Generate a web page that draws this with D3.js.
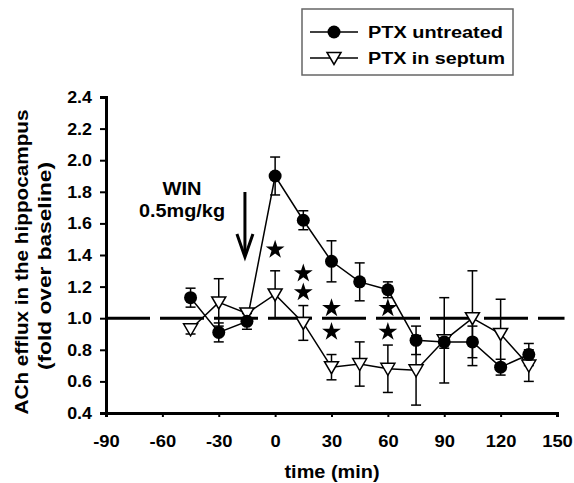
<!DOCTYPE html>
<html>
<head>
<meta charset="utf-8">
<script src="https://cdn.jsdelivr.net/npm/d3@7"></script>
<style>
  body { margin: 0; background: #fff; }
  text { font-family: "Liberation Sans", Arial, sans-serif; font-weight: bold; fill: #000; }
</style>
</head>
<body>
<script>
// time points (min)
const times = [-45, -30, -15, 0, 15, 30, 45, 60, 75, 90, 105, 120, 135];

// PTX untreated (filled circles)
const untreatedMean = [1.13, 0.91, 0.98, 1.90, 1.62, 1.36, 1.23, 1.18, 0.86, 0.85, 0.85, 0.69, 0.77];
const untreatedErr  = [0.06, 0.06, 0.05, 0.12, 0.06, 0.13, 0.12, 0.05, 0.09, 0.04, 0.10, 0.05, 0.07];

// PTX in septum (open triangles)
const septumMean = [0.93, 1.10, 1.03, 1.15, 0.97, 0.69, 0.71, 0.68, 0.67, 0.86, 1.00, 0.90, 0.70];
const septumErr  = [0.03, 0.15, 0.03, 0.15, 0.11, 0.08, 0.14, 0.15, 0.22, 0.27, 0.30, 0.22, 0.10];

// significance stars [time, value]
const stars = [[0, 1.44], [15, 1.29], [15, 1.17], [30, 1.07], [30, 0.92], [60, 1.07], [60, 0.92]];

const xTicks = [-90, -60, -30, 0, 30, 60, 90, 120, 150];
const yTicks = [0.4, 0.6, 0.8, 1.0, 1.2, 1.4, 1.6, 1.8, 2.0, 2.2, 2.4];

const baseline = 1.0;
const injectionTime = -15;

const svgWidth = 574;
const svgHeight = 483;
const margin = {top: 97, right: 17, bottom: 70, left: 106};

const svg = d3.select("body").append("svg")
    .attr("width", svgWidth)
    .attr("height", svgHeight);

// the original lettering is a bit wider than Liberation Sans Bold
function stretch(sel, k) {
    sel.each(function() {
        const len = this.getComputedTextLength();
        d3.select(this)
            .attr("textLength", len * k)
            .attr("lengthAdjust", "spacingAndGlyphs");
    });
}

const scaleX = d3.scaleLinear()
    .domain([-90, 150])
    .range([margin.left, svgWidth - margin.right]);

const scaleY = d3.scaleLinear()
    .domain([0.4, 2.4])
    .range([svgHeight - margin.bottom, margin.top]);

// baseline dashed line
svg.append("line")
    .attr("x1", scaleX(-90))
    .attr("x2", scaleX(154))
    .attr("y1", scaleY(baseline))
    .attr("y2", scaleY(baseline))
    .attr("stroke", "black")
    .attr("stroke-width", 3)
    .attr("stroke-dasharray", "44 10");

// axes
const axisX = svg.append("g")
    .attr("transform", `translate(0,${scaleY(0.4)})`)
    .call(d3.axisBottom(scaleX).tickValues(xTicks).tickFormat(d => String(d)).tickSize(4).tickPadding(18));
axisX.select(".domain").attr("stroke-width", 3);
axisX.selectAll(".tick line").attr("stroke-width", 2);
axisX.selectAll(".tick text").style("font-size", "17px").call(stretch, 1.08);

const axisY = svg.append("g")
    .attr("transform", `translate(${scaleX(-90)},0)`)
    .call(d3.axisLeft(scaleY).tickValues(yTicks).tickFormat(d3.format(".1f")).tickSize(6).tickPadding(8));
axisY.select(".domain").attr("stroke-width", 3);
axisY.selectAll(".tick line").attr("stroke-width", 2);
axisY.selectAll(".tick text").style("font-size", "17px").call(stretch, 1.05);

// axis titles
svg.append("text")
    .attr("x", 332)
    .attr("y", 478)
    .attr("text-anchor", "middle")
    .style("font-size", "19px")
    .attr("textLength", 95)
    .attr("lengthAdjust", "spacingAndGlyphs")
    .text("time (min)");

const yTitle = svg.append("g")
    .attr("transform", "translate(0,262) rotate(-90)");
yTitle.append("text")
    .attr("x", 0).attr("y", 28)
    .attr("text-anchor", "middle")
    .style("font-size", "18px")
    .attr("textLength", 305)
    .attr("lengthAdjust", "spacingAndGlyphs")
    .text("ACh efflux in the hippocampus");
yTitle.append("text")
    .attr("x", -4).attr("y", 51)
    .attr("text-anchor", "middle")
    .style("font-size", "18px")
    .attr("textLength", 208)
    .attr("lengthAdjust", "spacingAndGlyphs")
    .text("(fold over baseline)");

// series
const untreated = times.map((t, i) => ({t, v: untreatedMean[i], e: untreatedErr[i]}));
const septum = times.map((t, i) => ({t, v: septumMean[i], e: septumErr[i]}));

function drawErrors(data) {
    const g = svg.append("g").attr("stroke", "black").attr("stroke-width", 1.5);
    g.selectAll("line.bar").data(data).join("line")
        .attr("x1", d => scaleX(d.t)).attr("x2", d => scaleX(d.t))
        .attr("y1", d => scaleY(d.v - d.e)).attr("y2", d => scaleY(d.v + d.e));
    g.selectAll("line.capTop").data(data).join("line")
        .attr("x1", d => scaleX(d.t) - 5).attr("x2", d => scaleX(d.t) + 5)
        .attr("y1", d => scaleY(d.v + d.e)).attr("y2", d => scaleY(d.v + d.e));
    g.selectAll("line.capBottom").data(data).join("line")
        .attr("x1", d => scaleX(d.t) - 5).attr("x2", d => scaleX(d.t) + 5)
        .attr("y1", d => scaleY(d.v - d.e)).attr("y2", d => scaleY(d.v - d.e));
}

function drawLine(data) {
    svg.append("path")
        .datum(data)
        .attr("fill", "none")
        .attr("stroke", "black")
        .attr("stroke-width", 1.5)
        .attr("d", d3.line().x(d => scaleX(d.t)).y(d => scaleY(d.v)));
}

drawErrors(septum);
drawErrors(untreated);
drawLine(septum);
drawLine(untreated);

const triPath = "M-7,-5.5L7,-5.5L0,6.5Z";

svg.selectAll("path.tri").data(septum).join("path")
    .attr("class", "tri")
    .attr("transform", d => `translate(${scaleX(d.t)},${scaleY(d.v)})`)
    .attr("d", triPath)
    .attr("fill", "white")
    .attr("stroke", "black")
    .attr("stroke-width", 1.5);

svg.selectAll("circle.dot").data(untreated).join("circle")
    .attr("class", "dot")
    .attr("cx", d => scaleX(d.t))
    .attr("cy", d => scaleY(d.v))
    .attr("r", 6.5)
    .attr("fill", "black");

// stars
svg.selectAll("path.star").data(stars).join("path")
    .attr("class", "star")
    .attr("transform", d => `translate(${scaleX(d[0])},${scaleY(d[1]) + 1})`)
    .attr("d", d3.symbol().type(d3.symbolStar).size(110))
    .attr("fill", "black");

// WIN injection annotation
svg.append("text")
    .attr("x", 182).attr("y", 195)
    .attr("text-anchor", "middle")
    .style("font-size", "18px")
    .attr("textLength", 39)
    .attr("lengthAdjust", "spacingAndGlyphs")
    .text("WIN");
svg.append("text")
    .attr("x", 182).attr("y", 217)
    .attr("text-anchor", "middle")
    .style("font-size", "18px")
    .attr("textLength", 86)
    .attr("lengthAdjust", "spacingAndGlyphs")
    .text("0.5mg/kg");

const ax = scaleX(injectionTime) - 2;
svg.append("line")
    .attr("x1", ax).attr("x2", ax)
    .attr("y1", 192).attr("y2", 255)
    .attr("stroke", "black").attr("stroke-width", 3);
svg.append("path")
    .attr("d", `M${ax - 8},234L${ax},257L${ax + 8},234`)
    .attr("fill", "none")
    .attr("stroke", "black").attr("stroke-width", 3);

// legend
const legend = svg.append("g");
legend.append("rect")
    .attr("x", 302).attr("y", 9)
    .attr("width", 211).attr("height", 66)
    .attr("fill", "white")
    .attr("stroke", "#666")
    .attr("stroke-width", 1.5);

const legendRows = [
    {label: "PTX untreated", y: 32, kind: "circle", w: 135},
    {label: "PTX in septum", y: 58, kind: "tri", w: 137}
];
legendRows.forEach(r => {
    legend.append("line")
        .attr("x1", 310).attr("x2", 358)
        .attr("y1", r.y).attr("y2", r.y)
        .attr("stroke", "black").attr("stroke-width", 1.5);
    if (r.kind === "circle") {
        legend.append("circle").attr("cx", 334).attr("cy", r.y).attr("r", 6.5).attr("fill", "black");
    } else {
        legend.append("path")
            .attr("transform", `translate(334,${r.y})`)
            .attr("d", triPath)
            .attr("fill", "white").attr("stroke", "black").attr("stroke-width", 1.5);
    }
    legend.append("text")
        .attr("x", 368).attr("y", r.y + 6)
        .style("font-size", "16px")
        .attr("textLength", r.w)
        .attr("lengthAdjust", "spacingAndGlyphs")
        .text(r.label);
});
</script>
</body>
</html>
